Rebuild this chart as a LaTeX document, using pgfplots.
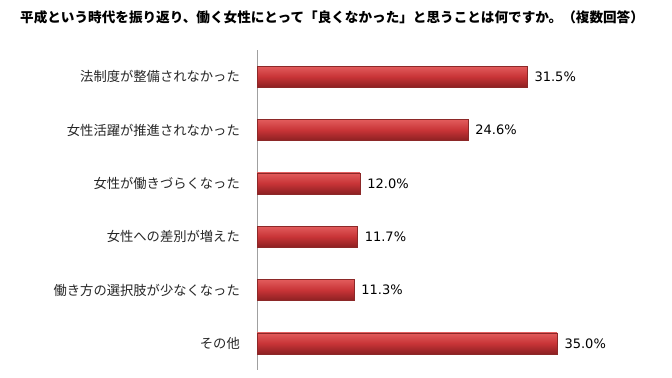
\documentclass[border=0pt]{standalone}
\usepackage{fontspec}
\usepackage{pgfplots}
\pgfplotsset{compat=1.18}
\newfontfamily\jp{Noto Sans CJK JP}
\newfontfamily\numfont{DejaVu Sans}
\definecolor{barlight}{RGB}{226,92,92}
\definecolor{barmid}{RGB}{200,52,55}
\definecolor{bardark}{RGB}{140,32,34}
\definecolor{baredge}{RGB}{140,40,40}
\definecolor{axisgray}{RGB}{160,160,160}
\tikzset{mybar/.style={draw=baredge, line width=0.4pt, top color=barlight, bottom color=bardark, middle color=barmid}}
\begin{document}
\begin{tikzpicture}[x=1bp,y=1bp]
\path[use as bounding box] (0,0) rectangle (672,377);
\node[anchor=west,inner sep=0pt,font=\jp\bfseries\fontsize{13.6bp}{16bp}\selectfont] at (20,360) {平成という時代を振り返り、働く女性にとって「良くなかった」と思うことは何ですか。（複数回答）};
\begin{axis}[
  at={(257bp,7bp)}, anchor=south west,
  scale only axis, width=342.9bp, height=320bp,
  xmin=0, xmax=40, ymin=-0.5, ymax=5.5,
  y dir=reverse,
  axis x line=none, axis y line=left,
  y axis line style={-, draw=axisgray, line width=0.8pt},
  ytick={0,1,2,3,4,5},
  yticklabels={法制度が整備されなかった,女性活躍が推進されなかった,女性が働きづらくなった,女性への差別が増えた,働き方の選択肢が少なくなった,その他},
  major tick length=0pt,
  yticklabel style={font=\jp\fontsize{13.3bp}{16bp}\selectfont, inner sep=0pt, xshift=-17bp, text=black!85},
  xbar, bar width=21bp, bar shift=0pt,
  nodes near coords={\pgfmathprintnumber[fixed,fixed zerofill,precision=1,assume math mode=true]{\pgfplotspointmeta}\%},
  every node near coord/.append style={font=\numfont\fontsize{13bp}{15bp}\selectfont, anchor=west, xshift=4bp, text=black},
  clip=false,
]
\addplot[mybar] coordinates {(31.5,0)};
\addplot[mybar] coordinates {(24.6,1)};
\addplot[mybar] coordinates {(12.0,2)};
\addplot[mybar] coordinates {(11.7,3)};
\addplot[mybar] coordinates {(11.3,4)};
\addplot[mybar] coordinates {(35.0,5)};
\end{axis}
\end{tikzpicture}
\end{document}
